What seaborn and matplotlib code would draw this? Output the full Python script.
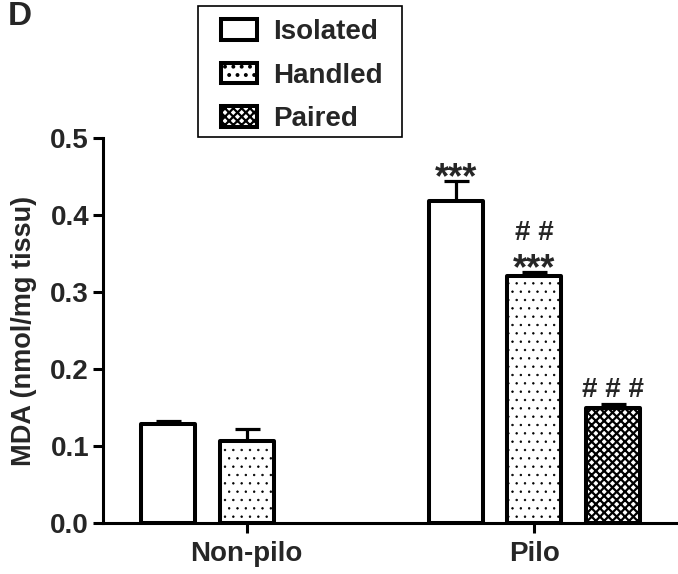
import pandas as pd
import matplotlib
matplotlib.use("Agg")
import matplotlib.pyplot as plt
from matplotlib.patches import Patch, Rectangle
import seaborn as sns

# MDA levels per group / condition (Non-pilo Paired not measured)
groups = ["Non-pilo", "Non-pilo", "Pilo", "Pilo", "Pilo"]
conditions = ["Isolated", "Handled", "Isolated", "Handled", "Paired"]
mda_mean = [0.128, 0.107, 0.418, 0.321, 0.149]
mda_sem = [0.005, 0.015, 0.026, 0.005, 0.006]
stars = ["", "", "***", "***", ""]
hashes = ["", "", "", "##", "###"]

group_order = ["Non-pilo", "Pilo"]
cond_order = ["Isolated", "Handled", "Paired"]
y_ticks = [0.0, 0.1, 0.2, 0.3, 0.4, 0.5]

df = pd.DataFrame({"group": groups, "cond": conditions, "mda": mda_mean,
                   "sem": mda_sem, "stars": stars, "hashes": hashes})

sns.set_style("ticks")
plt.rcParams["font.family"] = ["Liberation Sans", "DejaVu Sans"]
plt.rcParams["font.weight"] = "bold"
plt.rcParams["hatch.linewidth"] = 1.6
plt.rcParams["hatch.color"] = "black"

hatches = {"Isolated": "", "Handled": "..", "Paired": "xxxx"}
hatch_lw = {"Isolated": 1.0, "Handled": 0.5, "Paired": 1.6}
LW = 2.9

fig = plt.figure(figsize=(6.78, 5.74), dpi=100)
ax = fig.add_axes([103 / 678, 1 - 523 / 574, 575 / 678, 385 / 574])

sns.barplot(data=df, x="group", y="mda", hue="cond", order=group_order,
            hue_order=cond_order, palette=["white"] * 3, edgecolor="black",
            linewidth=LW, width=0.82, gap=0.31, errorbar=None, legend=False, ax=ax)

# style bars, error bars and significance marks per hue level
for cond, cont in zip(cond_order, ax.containers):
    present = [g for g in group_order if g in set(df.loc[df["cond"] == cond, "group"])]
    sub = df[df["cond"] == cond].set_index("group").reindex(present)
    for bar, (_, row) in zip(cont, sub.iterrows()):
        bar.set_hatch(hatches[cond])
        if hasattr(bar, "set_hatch_linewidth"):
            bar.set_hatch_linewidth(hatch_lw[cond])
        bar.set_facecolor("white")
        bar.set_joinstyle("round")
        xc = bar.get_x() + bar.get_width() / 2
        top = row["mda"] + row["sem"]
        ax.errorbar(xc, row["mda"], yerr=[[0], [row["sem"]]], fmt="none",
                    ecolor="black", elinewidth=2.3, capsize=9, capthick=2.3,
                    zorder=0.5)
        if row["stars"]:
            ax.annotate(row["stars"], (xc, top), xytext=(0, -5),
                        textcoords="offset points", ha="center", va="baseline",
                        fontsize=26, fontweight="bold")
        if row["hashes"]:
            off = 23 if row["stars"] else 4.5
            ax.annotate(" ".join(row["hashes"]), (xc, top), xytext=(0, off),
                        textcoords="offset points", ha="center", va="baseline",
                        fontsize=20, fontweight="bold")

ax.set_xlim(-0.5, 1.5)
ax.set_ylim(0, 0.5)
ax.set_yticks(y_ticks)
ax.set_yticklabels([f"{v:.1f}" for v in y_ticks])
ax.set_xlabel("")
ax.set_ylabel("MDA (nmol/mg tissu)", fontsize=19.5, fontweight="bold")
ax.yaxis.set_label_coords(-0.115, 0.5)
ax.tick_params(axis="both", labelsize=20, width=2.2, length=7, color="black",
               direction="out")
ax.tick_params(axis="y", pad=3)
ax.tick_params(axis="x", pad=6)
for lab in ax.get_xticklabels() + ax.get_yticklabels():
    lab.set_fontweight("bold")
sns.despine(ax=ax)
for side in ["left", "bottom"]:
    ax.spines[side].set_linewidth(2.2)
    ax.spines[side].set_color("black")

handles = []
for c in cond_order:
    h = Patch(facecolor="white", edgecolor="black", linewidth=LW,
              hatch=hatches[c], label=c)
    if hasattr(h, "set_hatch_linewidth"):
        h.set_hatch_linewidth(hatch_lw[c])
    handles.append(h)
leg = fig.legend(handles=handles, loc="upper left",
                 bbox_to_anchor=(221 / 678, 1 - 19 / 574), borderaxespad=0,
                 frameon=False, prop={"weight": "bold", "size": 20},
                 handlelength=1.3, handleheight=0.78, handletextpad=0.58,
                 labelspacing=0.63, borderpad=0)
# legend frame, drawn separately to match the uneven padding of the original
fig.patches.append(Rectangle((198 / 678, 1 - 137 / 574), 204 / 678, 131 / 574,
                             transform=fig.transFigure, fill=False,
                             edgecolor="black", linewidth=1.2))

fig.text(0.012, 1 - 25 / 574, "D", fontsize=24, va="baseline", ha="left")

fig.savefig("out.png", dpi=100)
